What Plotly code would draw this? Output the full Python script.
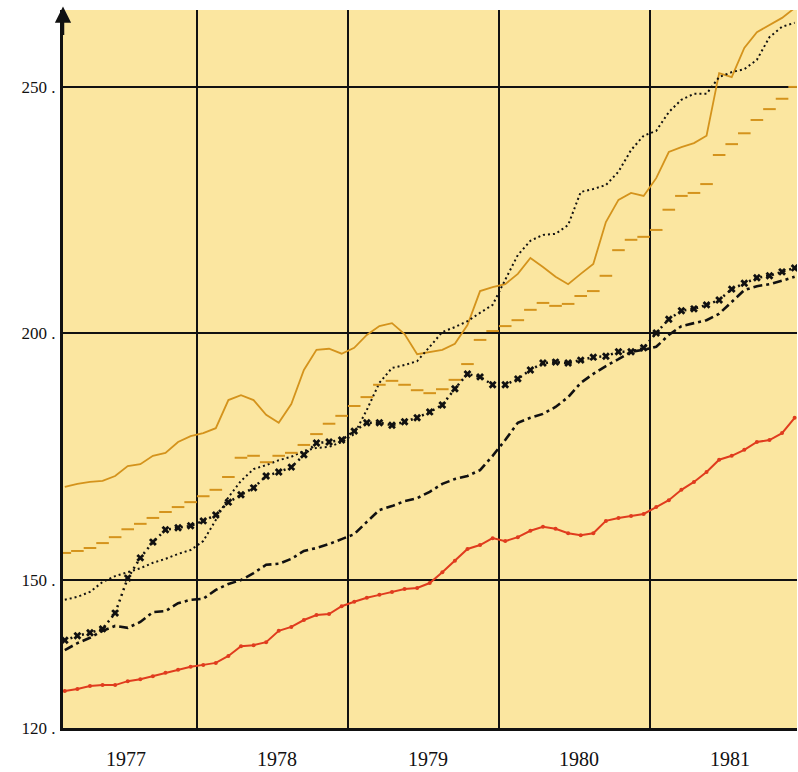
import plotly.graph_objects as go

# Monthly index values, February 1977 to December 1981
start_year, start_month = 1977, 2
n_months = 59
months = [start_year + (start_month - 1 + i + 0.5) / 12 for i in range(n_months)]

orange_solid = [168.9, 169.5, 169.9, 170.1, 171.1, 173.1, 173.5, 175.2, 175.8, 178.0,
                179.2, 179.8, 180.8, 186.5, 187.5, 186.5, 183.5, 181.9, 185.7, 192.6,
                196.7, 196.9, 195.9, 197.1, 199.7, 201.5, 202.1, 199.9, 195.8, 196.3,
                196.7, 197.9, 201.7, 208.6, 209.4, 210.0, 212.1, 215.3, 213.5, 211.5,
                210.0, 212.1, 214.1, 222.6, 227.1, 228.5, 227.9, 231.5, 236.8, 237.8,
                238.6, 240.1, 252.8, 252.0, 257.9, 261.1, 262.6, 264.0, 266.0]

black_dotted = [146.0, 146.6, 147.6, 149.6, 150.8, 151.6, 152.4, 153.5, 154.3, 155.3,
                156.1, 157.9, 162.2, 166.8, 170.1, 172.5, 173.3, 174.3, 175.0, 176.2,
                176.8, 177.0, 178.0, 179.6, 184.5, 190.0, 193.0, 193.6, 194.4, 197.3,
                200.3, 201.3, 202.5, 204.2, 205.8, 210.9, 215.9, 218.8, 220.0, 220.2,
                222.0, 228.7, 229.3, 230.1, 232.8, 237.2, 240.1, 241.1, 244.9, 247.4,
                248.6, 248.6, 252.0, 253.0, 253.6, 255.5, 260.1, 262.2, 263.0]

orange_dashed = [155.5, 155.9, 156.5, 157.5, 158.7, 160.3, 161.4, 162.6, 163.8, 164.8,
                 165.8, 167.0, 168.3, 170.9, 174.8, 175.2, 173.9, 175.2, 175.8, 177.4,
                 179.6, 181.7, 183.3, 185.3, 187.1, 189.6, 190.4, 189.6, 188.5, 187.9,
                 188.7, 190.6, 193.8, 198.7, 200.5, 201.5, 202.7, 204.8, 206.2, 205.6,
                 206.0, 207.6, 208.6, 211.7, 216.9, 219.0, 219.6, 221.0, 225.1, 227.9,
                 228.5, 230.3, 236.2, 238.4, 240.6, 243.3, 245.5, 247.6, 250.0]

black_crosses = [137.8, 138.7, 139.3, 140.1, 143.3, 150.4, 154.5, 157.7, 160.2, 160.6,
                 161.0, 162.0, 163.2, 165.8, 167.3, 168.7, 171.1, 171.9, 172.9, 175.4,
                 177.8, 178.0, 178.4, 180.2, 181.9, 181.9, 181.4, 182.1, 182.9, 184.1,
                 185.5, 188.8, 191.8, 191.2, 189.6, 189.6, 190.8, 192.6, 194.0, 194.2,
                 194.0, 194.6, 195.2, 195.4, 196.3, 196.3, 197.1, 200.1, 202.9, 204.6,
                 205.0, 205.8, 206.8, 209.0, 210.2, 211.3, 211.7, 212.5, 213.3]

black_dashdot = [135.8, 137.2, 138.3, 139.7, 140.7, 140.3, 141.5, 143.5, 143.7, 145.3,
                 146.0, 146.2, 148.0, 149.2, 150.0, 151.4, 153.1, 153.3, 154.3, 155.9,
                 156.5, 157.3, 158.3, 159.3, 161.8, 164.2, 165.0, 166.0, 166.6, 167.9,
                 169.5, 170.5, 171.1, 172.3, 175.2, 178.4, 181.9, 182.9, 183.7, 185.1,
                 187.1, 190.0, 191.8, 193.4, 194.8, 196.3, 196.7, 197.3, 199.7, 201.5,
                 202.1, 202.7, 204.0, 206.4, 208.8, 209.6, 210.0, 210.7, 211.5]

red_solid = [127.5, 127.9, 128.5, 128.7, 128.7, 129.5, 129.9, 130.5, 131.2, 131.8,
             132.4, 132.8, 133.2, 134.6, 136.6, 136.8, 137.4, 139.7, 140.5, 141.9,
             142.9, 143.1, 144.7, 145.6, 146.4, 147.0, 147.6, 148.2, 148.4, 149.4,
             151.6, 153.9, 156.3, 157.1, 158.5, 157.9, 158.7, 160.0, 160.8, 160.4,
             159.5, 159.1, 159.5, 162.0, 162.6, 163.0, 163.4, 164.8, 166.2, 168.3,
             169.9, 171.9, 174.4, 175.2, 176.4, 178.0, 178.4, 179.8, 182.9]

year_labels = ["1977", "1978", "1979", "1980", "1981"]
year_bounds = [1978, 1979, 1980, 1981]
y_ticks = [120, 150, 200, 250]
y_ticktext = ["120 .", "150 .", "200 .", "250 ."]

GOLD = "#D4931C"
RED = "#E03C1E"
INK = "#111111"
PAPER = "#FBE6A0"

fig = go.Figure()

fig.add_trace(go.Scatter(x=months, y=orange_solid, mode="lines",
                         line=dict(color=GOLD, width=1.8), cliponaxis=False))
fig.add_trace(go.Scatter(x=months, y=black_dotted, mode="lines",
                         line=dict(color=INK, width=2, dash="2px,3px")))
fig.add_trace(go.Scatter(x=months, y=orange_dashed, mode="markers",
                         marker=dict(symbol="line-ew", size=9,
                                     line=dict(color=GOLD, width=2))))
fig.add_trace(go.Scatter(x=months, y=black_crosses, mode="lines+markers",
                         line=dict(color=INK, width=2.5, dash="2px,4px"),
                         marker=dict(symbol="x", size=7, color=INK,
                                     line=dict(width=0))))
fig.add_trace(go.Scatter(x=months, y=black_dashdot, mode="lines",
                         line=dict(color=INK, width=2.6, dash="9px,4px,3px,4px")))
fig.add_trace(go.Scatter(x=months, y=red_solid, mode="lines+markers",
                         line=dict(color=RED, width=2),
                         marker=dict(symbol="circle", size=4, color=RED)))

x_min, x_max = 1977.113, 1981.974

fig.update_layout(
    width=798, height=772,
    margin=dict(l=63, r=1, t=10, b=44),
    paper_bgcolor="white",
    plot_bgcolor=PAPER,
    showlegend=False,
    font=dict(family="Liberation Serif", color="#111111", size=16),
    xaxis=dict(
        range=[x_min, x_max],
        tickmode="array",
        tickvals=[int(y) + 0.53 for y in year_labels],
        ticktext=year_labels,
        ticks="outside", ticklen=11, tickcolor="rgba(0,0,0,0)",
        showgrid=False, zeroline=False,
        showline=True, linecolor=INK, linewidth=3,
        minor=dict(tickmode="array", tickvals=year_bounds, showgrid=True,
                   gridcolor=INK, gridwidth=2, ticks=""),
        tickfont=dict(size=20, family="Liberation Serif"),
    ),
    yaxis=dict(
        range=[120, 265.6],
        tickmode="array",
        tickvals=y_ticks,
        ticktext=y_ticktext,
        ticks="outside", ticklen=1, tickcolor="rgba(0,0,0,0)",
        showgrid=True, gridcolor=INK, gridwidth=1.8,
        zeroline=False,
        showline=True, linecolor=INK, linewidth=3,
        tickfont=dict(size=17, family="Liberation Serif"),
    ),
)

# Arrowhead at the top of the value axis
fig.add_annotation(x=0, y=1.005, xref="paper", yref="paper", text="",
                   showarrow=True, ax=0, ay=30, arrowhead=2, arrowsize=1.3,
                   arrowwidth=2.5, arrowcolor=INK)

fig.write_html("out.html")
